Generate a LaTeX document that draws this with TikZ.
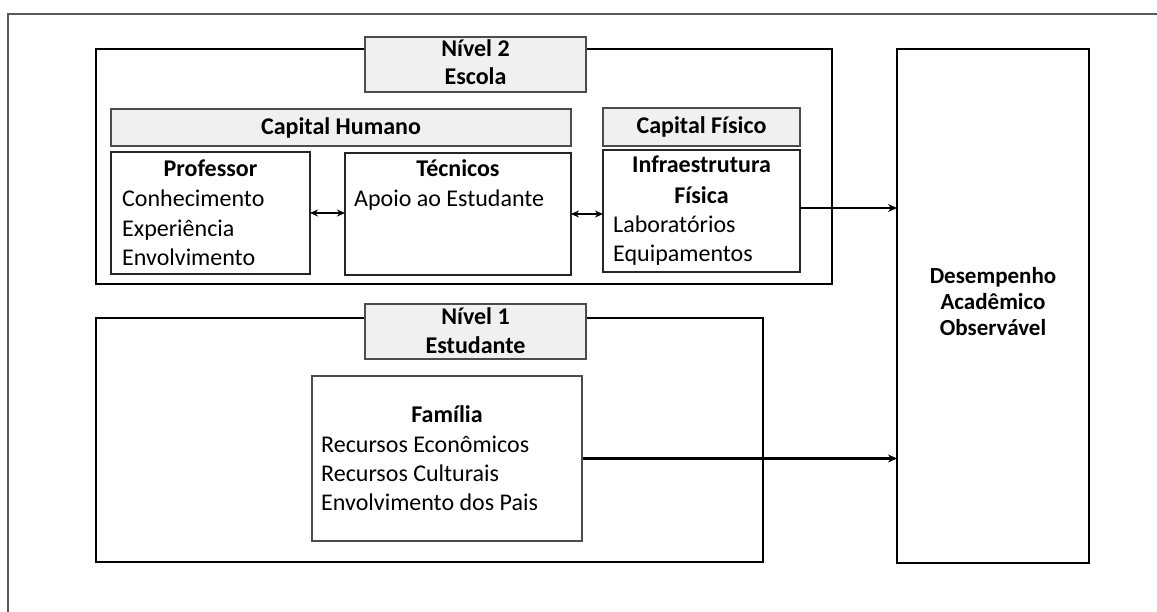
\documentclass[tikz,border=0pt]{standalone}
\usepackage{fontspec}
\setmainfont{Carlito}
\usetikzlibrary{arrows.meta}
\begin{document}
\begin{tikzpicture}[x=1pt,y=-1pt,
  frame/.style={draw=black, line width=2.6pt, inner sep=0pt, outer sep=0pt},
  inbox/.style={draw=black!85, line width=1.8pt, fill=white, inner sep=0pt, outer sep=0pt},
  tagbox/.style={draw=black!70, line width=1.8pt, fill=black!6, inner sep=0pt, outer sep=0pt},
  txt/.style={inner sep=0pt, font=\fontsize{24}{30}\selectfont, anchor=base west},
  hd/.style={inner sep=0pt, font=\fontsize{24}{30}\selectfont\bfseries, anchor=base},
  conn/.style={line width=2.1pt, -{Stealth[length=9pt,width=8pt]}},
  biconn/.style={line width=2.1pt, {Stealth[length=8pt,width=7pt]}-{Stealth[length=8pt,width=7pt]}}]
\useasboundingbox (0,0) rectangle (1157,612);
\fill[white] (0,0) rectangle (1157,612);
% outer frame (top and left edges visible)
\draw[draw=black!65, line width=1.4pt] (8,612) -- (8,14) -- (1157,14);

% level 2
\node[frame, minimum width=736pt, minimum height=235pt] (lvl2) at (464,166.5) {};
\node[tagbox, minimum width=221pt, minimum height=55pt] (tag2) at (475.5,64.5) {};
\node[hd] (n2a) at (475.5,57) {Nível 2};
\node[hd] (n2b) at (475.5,85) {Escola};

\node[tagbox, minimum width=460pt, minimum height=37pt] (caphum) at (341,127.5) {};
\node[hd] (caphumt) at (341,135) {Capital Humano};
\node[tagbox, minimum width=197pt, minimum height=38pt] (capfis) at (701.5,127) {};
\node[hd] (capfist) at (701.5,134) {Capital Físico};

\node[inbox, minimum width=199pt, minimum height=122pt] (prof) at (210.5,213) {};
\node[hd] (proft) at (210.5,177) {Professor};
\node[txt] (p1) at (122,207) {Conhecimento};
\node[txt] (p2) at (122,237) {Experiência};
\node[txt] (p3) at (122,266) {Envolvimento};

\node[inbox, minimum width=226pt, minimum height=122pt] (tec) at (458,214) {};
\node[hd] (tect) at (458,177) {Técnicos};
\node[txt] (t1) at (354,207) {Apoio ao Estudante};

\node[inbox, minimum width=197pt, minimum height=122pt] (infra) at (701.5,211) {};
\node[hd] (infrat) at (701.5,173) {Infraestrutura};
\node[hd] (infrat2) at (701.5,204) {Física};
\node[txt] (i1) at (613,233) {Laboratórios};
\node[txt] (i2) at (613,262) {Equipamentos};

% level 1
\node[frame, minimum width=667pt, minimum height=244pt] (lvl1) at (429.5,440) {};
\node[tagbox, minimum width=221pt, minimum height=55pt] (tag1) at (475.5,331.5) {};
\node[hd] (n1a) at (475.5,325) {Nível 1};
\node[hd] (n1b) at (475.5,353) {Estudante};

\node[draw=black!70, line width=1.8pt, fill=white, inner sep=0pt, minimum width=270pt, minimum height=165pt] (fam) at (447,458.5) {};
\node[hd] (famt) at (447,422) {Família};
\node[txt] (f1) at (321,452) {Recursos Econômicos};
\node[txt] (f2) at (321,481) {Recursos Culturais};
\node[txt] (f3) at (321,510) {Envolvimento dos Pais};

% outcome
\node[frame, minimum width=192pt, minimum height=514pt] (desemp) at (993,306) {};
\node[inner sep=0pt, font=\fontsize{23}{26}\selectfont\bfseries, align=center] (desempt) at (993,302) {Desempenho\\Acadêmico\\Observável};

% connectors
\draw[biconn] (prof.east) -- (prof.east -| tec.west);
\draw[biconn] (tec.east) -- (tec.east -| infra.west);
\draw[conn] ([yshift=3pt]infra.east) -- ([yshift=3pt]infra.east -| desemp.west);
\draw[conn] (fam.east) -- (fam.east -| desemp.west);
\end{tikzpicture}
\end{document}
